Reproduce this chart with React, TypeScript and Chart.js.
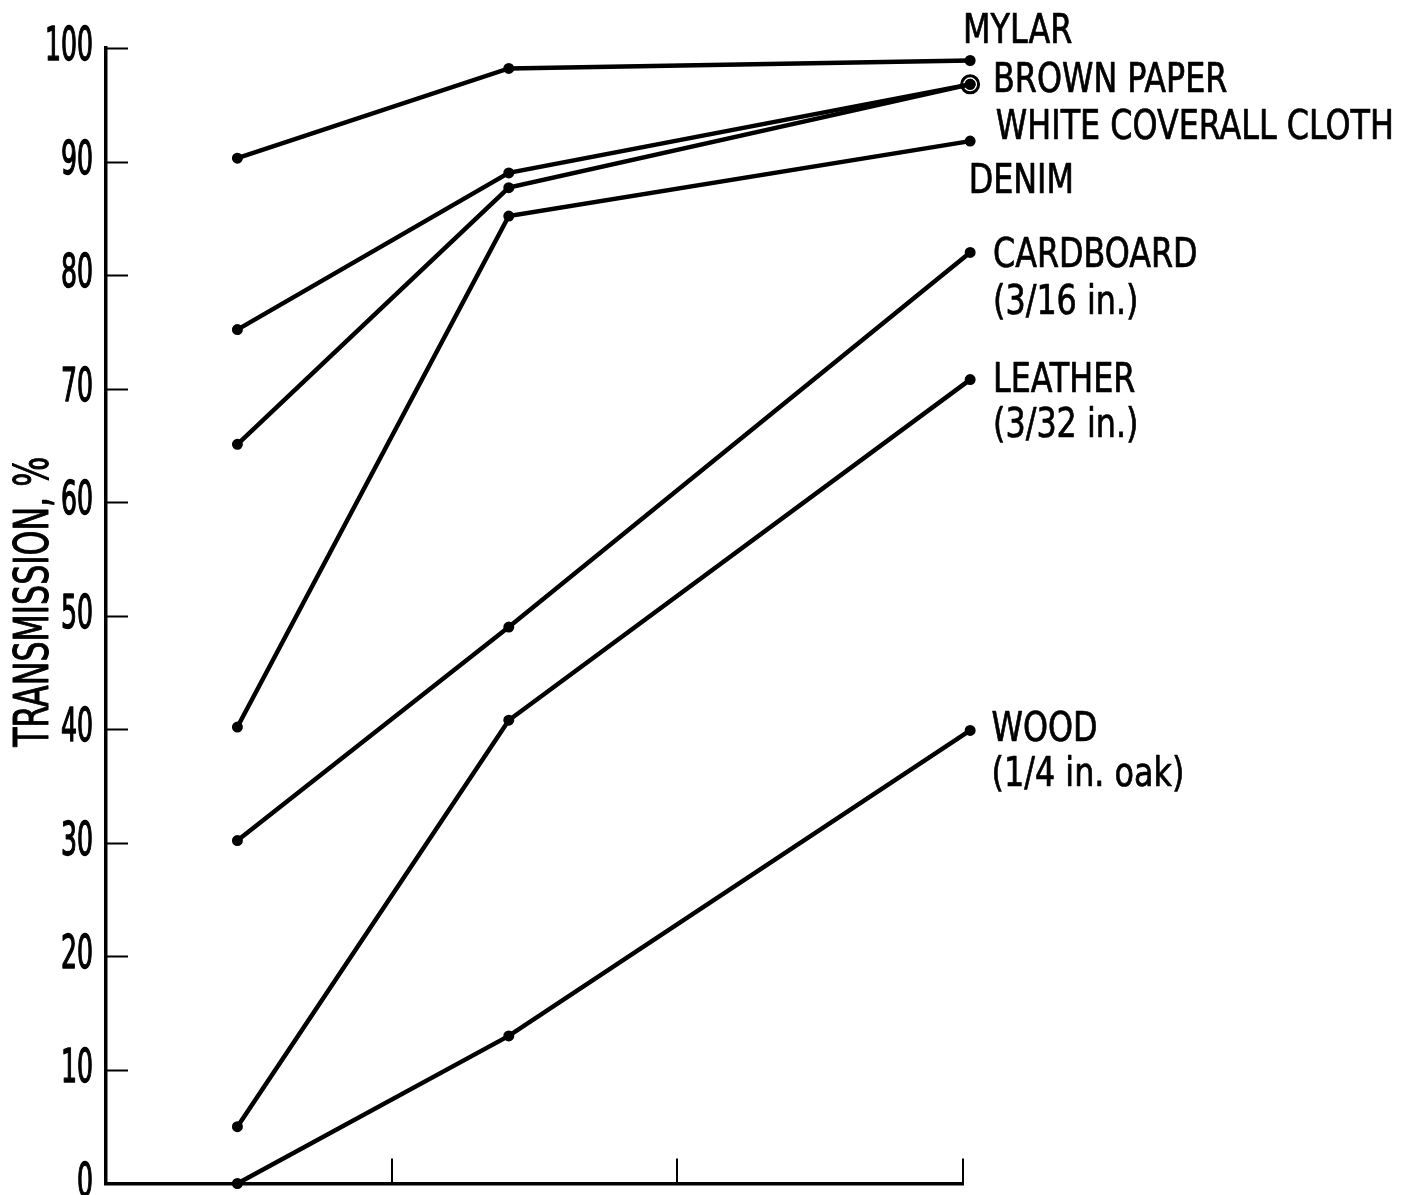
import React, { useEffect, useRef } from "react";
import { Chart, registerables } from "chart.js";

Chart.register(...registerables);

const FONT = '"Liberation Sans Narrow", "DejaVu Sans Condensed", "Arial Narrow", sans-serif';

// x positions of the three measurement columns (axis has unlabeled ticks at 1, 2, 3)
const xPositions = [0.46, 1.41, 3.025];
const xTickValues = [1, 2, 3];
const yTickValues = [0, 10, 20, 30, 40, 50, 60, 70, 80, 90, 100];
const yAxisTitle = "TRANSMISSION, %";

// series values (transmission, %)
const mylar = [90.3, 98.2, 98.9];
const brownPaper = [75.2, 89.0, 96.8];
const whiteCoverallCloth = [65.1, 87.7, 96.8];
const denim = [40.2, 85.2, 91.8];
const cardboard = [30.2, 49.0, 82.0];
const leather = [5.0, 40.8, 70.8];
const wood = [0, 13.0, 39.9];

// shared end point marked by an open circle
const sharedEndpoint = { x: 3.025, y: 96.8 };

// series labels at the right (anchored in data coordinates; y = text baseline)
const labelLines = [
  { text: "MYLAR", x: 3.0, y: 100.4 },
  { text: "BROWN PAPER", x: 3.105, y: 96.1 },
  { text: "WHITE COVERALL CLOTH", x: 3.115, y: 92.0 },
  { text: "DENIM", x: 3.02, y: 87.2 },
  { text: "CARDBOARD", x: 3.105, y: 80.7 },
  { text: "(3/16 in.)", x: 3.105, y: 76.6 },
  { text: "LEATHER", x: 3.105, y: 69.7 },
  { text: "(3/32 in.)", x: 3.105, y: 65.7 },
  { text: "WOOD", x: 3.1, y: 39.0 },
  { text: "(1/4 in. oak)", x: 3.1, y: 35.0 },
];

const seriesList = [
  { name: "MYLAR", values: mylar },
  { name: "BROWN PAPER", values: brownPaper },
  { name: "WHITE COVERALL CLOTH", values: whiteCoverallCloth },
  { name: "DENIM", values: denim },
  { name: "CARDBOARD", values: cardboard },
  { name: "LEATHER", values: leather },
  { name: "WOOD", values: wood },
];

function drawScaledText(
  ctx: CanvasRenderingContext2D,
  text: string,
  x: number,
  y: number,
  sx: number,
  align: CanvasTextAlign,
  strokeW: number,
  rot = 0
) {
  ctx.save();
  ctx.translate(x, y);
  if (rot) ctx.rotate(rot);
  ctx.scale(sx, 1);
  ctx.textAlign = align;
  ctx.textBaseline = "alphabetic";
  ctx.fillText(text, 0, 0);
  if (strokeW > 0) {
    ctx.lineWidth = strokeW;
    ctx.lineJoin = "round";
    ctx.strokeText(text, 0, 0);
  }
  ctx.restore();
}

const decorPlugin = {
  id: "decor",
  afterDraw(chart: any) {
    const { ctx, chartArea } = chart;
    const xs = chart.scales.x;
    const ys = chart.scales.y;
    ctx.save();
    ctx.strokeStyle = "#000";
    ctx.lineWidth = 2;
    ctx.beginPath();
    yTickValues.forEach((v) => {
      if (v === 0) return;
      const py = Math.round(ys.getPixelForValue(v)) + 0.5;
      ctx.moveTo(chartArea.left, py);
      ctx.lineTo(chartArea.left + 22, py);
    });
    xTickValues.forEach((v) => {
      const px = Math.round(xs.getPixelForValue(v));
      ctx.moveTo(px, chartArea.bottom);
      ctx.lineTo(px, chartArea.bottom - 25);
    });
    ctx.stroke();

    ctx.fillStyle = "#000";
    ctx.strokeStyle = "#000";
    // y tick labels (condensed): about 16px per digit
    ctx.font = `46px ${FONT}`;
    const digitW = ctx.measureText("100").width / 3;
    const tickSx = 16 / digitW;
    yTickValues.forEach((v) => {
      drawScaledText(ctx, String(v), chartArea.left - 13, ys.getPixelForValue(v) + 12, tickSx, "right", 1.4);
    });
    // axis title (about 290px long)
    ctx.font = `48px ${FONT}`;
    const titleSx = 290 / ctx.measureText(yAxisTitle).width;
    drawScaledText(ctx, yAxisTitle, 48, (chartArea.top + chartArea.bottom) / 2 - 14, titleSx, "center", 1.0, -Math.PI / 2);
    // series labels (longest label about 398px wide)
    ctx.font = `40px ${FONT}`;
    const labelSx = 398 / ctx.measureText("WHITE COVERALL CLOTH").width;
    labelLines.forEach((l) => {
      drawScaledText(ctx, l.text, xs.getPixelForValue(l.x), ys.getPixelForValue(l.y), labelSx, "left", 0.7);
    });
    ctx.restore();
  },
};

export default function App() {
  const ref = useRef<HTMLCanvasElement | null>(null);

  useEffect(() => {
    if (!ref.current) return;
    const datasets: any[] = seriesList.map((s) => ({
      label: s.name,
      data: s.values.map((v, i) => ({ x: xPositions[i], y: v })),
      borderColor: "#000",
      borderWidth: 4.5,
      pointRadius: 3,
      pointBackgroundColor: "#000",
      pointBorderColor: "#000",
      pointBorderWidth: 5,
      tension: 0,
      clip: false,
    }));
    datasets.push({
      label: "shared end",
      data: [sharedEndpoint],
      showLine: false,
      pointRadius: 8.5,
      pointBorderWidth: 3,
      pointBorderColor: "#000",
      pointBackgroundColor: "rgba(0,0,0,0)",
      clip: false,
    });

    const chart = new Chart(ref.current, {
      type: "line",
      data: { datasets },
      options: {
        responsive: false,
        animation: false,
        layout: { padding: { top: 48, right: 448, bottom: 10, left: 0 } },
        plugins: { legend: { display: false }, tooltip: { enabled: false } },
        scales: {
          x: {
            type: "linear",
            min: 0,
            max: 3,
            ticks: { display: false },
            grid: { display: false, drawTicks: false },
            border: { display: true, color: "#000", width: 3.5 },
          },
          y: {
            type: "linear",
            min: 0,
            max: 100,
            afterBuildTicks: (scale: any) => {
              scale.ticks = yTickValues.map((v) => ({ value: v }));
            },
            afterFit: (scale: any) => {
              scale.width = 106;
            },
            ticks: { display: false },
            grid: { display: false, drawTicks: false },
            border: { display: true, color: "#000", width: 3.5 },
            title: { display: false, text: yAxisTitle },
          },
        },
      },
      plugins: [decorPlugin],
    });
    return () => chart.destroy();
  }, []);

  return (
    <div style={{ position: "absolute", left: 0, top: 0, width: 1411, height: 1195, background: "#fff" }}>
      <canvas ref={ref} width={1411} height={1195} style={{ display: "block" }} />
    </div>
  );
}
